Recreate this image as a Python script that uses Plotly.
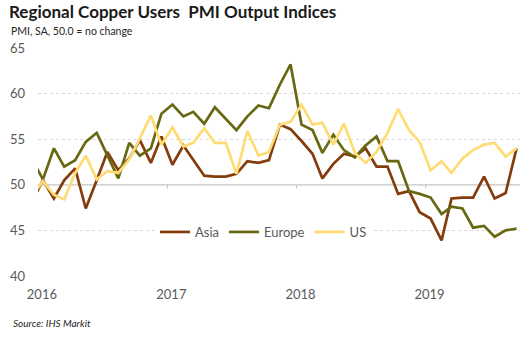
import plotly.graph_objects as go

# Monthly PMI output readings (mid-month observations), Dec 2015 - Sep 2019
months = [f"{y}-{m:02d}-15" for y, m in
          [(2015, 12)] + [(yy, mm) for yy in range(2016, 2020) for mm in range(1, 13)]][:46]

asia = [48.2, 50.5, 48.5, 50.5, 51.8, 47.4, 50.5, 53.6, 51.6, 52.9,
        54.9, 52.4, 55.3, 52.2, 54.3, 52.8, 51.0, 50.9, 50.9, 51.2,
        52.6, 52.4, 52.7, 56.6, 56.1, 54.8, 53.4, 50.7, 52.3, 53.4,
        53.1, 54.0, 52.0, 52.0, 49.0, 49.3, 47.0, 46.3, 43.9, 48.5,
        48.6, 48.6, 50.9, 48.5, 49.1, 54.0]

europe = [52.8, 50.6, 54.0, 52.0, 52.7, 54.7, 55.7, 53.2, 50.7, 54.6,
          53.2, 54.0, 57.8, 58.8, 57.5, 58.0, 56.7, 58.5, 57.2, 56.0,
          57.5, 58.7, 58.4, 61.0, 63.2, 56.6, 56.0, 53.5, 55.5, 53.8,
          53.0, 54.3, 55.3, 52.6, 52.6, 49.3, 49.0, 48.6, 46.8, 47.6,
          47.4, 45.3, 45.5, 44.3, 45.0, 45.2]

us = [48.8, 50.4, 48.9, 48.4, 51.3, 53.2, 50.6, 51.5, 51.3, 52.8,
      55.1, 57.6, 54.4, 56.3, 54.2, 54.6, 56.2, 54.6, 54.6, 51.2,
      55.9, 53.2, 53.6, 56.6, 56.9, 58.8, 56.6, 56.8, 54.4, 56.7,
      53.5, 52.4, 53.6, 55.7, 58.3, 56.0, 54.7, 51.6, 52.6, 51.3,
      52.9, 53.8, 54.4, 54.6, 53.1, 54.0]

series_names = ["Asia", "Europe", "US"]
series_colors = ["#843C0C", "#686812", "#FFDC73"]

year_labels = ["2016", "2017", "2018", "2019"]
year_label_pos = ["2016-01-12", "2017-01-12", "2018-01-12", "2019-01-12"]
year_bounds = ["2017-01-01", "2018-01-01", "2019-01-01"]
y_ticks = [40, 45, 50, 55, 60, 65]

W, H = 530, 340
L, R, T, B = 38, 10, 48, 64
plot_w, plot_h = W - L - R, H - T - B


def px_x(px):
    return (px - L) / plot_w


def px_y(py):
    return (H - B - py) / plot_h


fig = go.Figure()
for name, vals, col in zip(series_names, [asia, europe, us], series_colors):
    fig.add_trace(go.Scatter(
        x=months, y=vals, name=name, mode="lines",
        line=dict(color=col, width=2.7),
        cliponaxis=True,
    ))

# no-change reference line at 50 with year-boundary ticks
fig.add_shape(type="line", xref="paper", yref="y", x0=0, x1=1, y0=50, y1=50,
              line=dict(color="#BFBFBF", width=1.2), layer="below")
for xb in year_bounds:
    fig.add_shape(type="line", xref="x", yref="y", x0=xb, x1=xb, y0=49.62, y1=50,
                  line=dict(color="#BFBFBF", width=1), layer="below")

grey = "#595959"
fig.update_layout(
    width=W, height=H,
    margin=dict(l=L, r=R, t=T, b=B, pad=0),
    paper_bgcolor="white", plot_bgcolor="white",
    font=dict(family="Lato, sans-serif", color=grey, size=13),
    showlegend=True,
    legend=dict(
        orientation="h", x=px_x(155), y=px_y(232), xanchor="left", yanchor="middle",
        bgcolor="white", font=dict(size=13, color=grey),
        itemwidth=30, tracegroupgap=0, traceorder="normal",
    ),
    xaxis=dict(
        type="date", range=["2016-01-01", "2019-09-24 16:00"],
        tickvals=year_label_pos, ticktext=year_labels,
        showgrid=False, zeroline=False, showline=False, ticks="",
        tickfont=dict(size=13, color=grey), ticklabelstandoff=9,
    ),
    yaxis=dict(
        range=[40, 65], tickvals=y_ticks,
        showgrid=True, gridcolor="#D9D9D9", gridwidth=1, griddash="3px,3px",
        zeroline=False, showline=False, ticks="",
        tickfont=dict(size=13, color=grey), ticklabelstandoff=12,
    ),
    annotations=[
        dict(text="<b>Regional Copper Users  PMI Output Indices</b>",
             xref="paper", yref="paper", x=px_x(7), y=px_y(12),
             xanchor="left", yanchor="middle", showarrow=False,
             font=dict(size=17, color="#1a1a1a", family="Lato, sans-serif")),
        dict(text="PMI, SA, 50.0 = no change",
             xref="paper", yref="paper", x=px_x(9), y=px_y(31),
             xanchor="left", yanchor="middle", showarrow=False,
             font=dict(size=10.5, color="#262626", family="Lato, sans-serif")),
        dict(text="<i>Source: IHS Markit</i>",
             xref="paper", yref="paper", x=px_x(11), y=px_y(323),
             xanchor="left", yanchor="middle", showarrow=False,
             font=dict(size=10, color="#262626", family="Lato, sans-serif")),
    ],
)

fig.write_html("out.html")
